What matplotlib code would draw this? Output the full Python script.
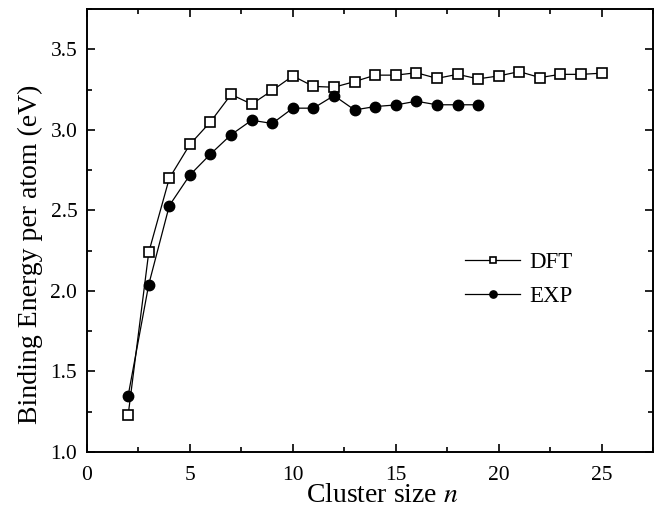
import matplotlib
matplotlib.use('Agg')
import matplotlib.pyplot as plt
from matplotlib.ticker import MultipleLocator

# cluster size and binding energy per atom (eV)
n_dft = [2, 3, 4, 5, 6, 7, 8, 9, 10, 11, 12, 13, 14, 15, 16, 17, 18, 19, 20, 21, 22, 23, 24, 25]
e_dft = [1.23, 2.24, 2.70, 2.91, 3.05, 3.22, 3.16, 3.245, 3.335, 3.27, 3.265, 3.30, 3.34, 3.34,
         3.355, 3.32, 3.345, 3.317, 3.335, 3.362, 3.325, 3.345, 3.345, 3.352]
n_exp = [2, 3, 4, 5, 6, 7, 8, 9, 10, 11, 12, 13, 14, 15, 16, 17, 18, 19]
e_exp = [1.35, 2.04, 2.53, 2.72, 2.85, 2.97, 3.06, 3.04, 3.135, 3.135, 3.213, 3.124, 3.145,
         3.155, 3.178, 3.156, 3.156, 3.156]

plt.rcParams['font.family'] = ['Liberation Serif', 'DejaVu Serif']
plt.rcParams['mathtext.fontset'] = 'stix'

fig = plt.figure(figsize=(6.61, 5.18), dpi=100)
ax = fig.add_axes([0.1316, 0.1274, 0.8564, 0.855])

ax.plot(n_dft, e_dft, color='black', lw=0.9, marker='s', ms=6.5, mfc='white',
        mec='black', mew=1.2, label='DFT')
ax.plot(n_exp, e_exp, color='black', lw=0.9, marker='o', ms=7.5, mfc='black',
        mec='black', label='EXP')

ax.set_xlim(0, 27.5)
ax.set_ylim(1.0, 3.75)
ax.xaxis.set_major_locator(MultipleLocator(5))
ax.xaxis.set_minor_locator(MultipleLocator(2.5))
ax.yaxis.set_major_locator(MultipleLocator(0.5))
ax.yaxis.set_minor_locator(MultipleLocator(0.25))
ax.tick_params(which='both', direction='in', top=True, right=True, width=1.2)
ax.tick_params(which='major', length=6, labelsize=15.5)
ax.tick_params(axis='x', which='major', pad=10)
ax.tick_params(axis='y', which='major', pad=7)
ax.tick_params(which='minor', length=3.5)
ax.set_yticks([1.0, 1.5, 2.0, 2.5, 3.0, 3.5])
ax.set_yticklabels(['1.0', '1.5', '2.0', '2.5', '3.0', '3.5'])
for s in ax.spines.values():
    s.set_linewidth(1.4)

ax.set_xlabel('Cluster size $n$', fontsize=20)
ax.set_ylabel('Binding Energy per atom (eV)', fontsize=20)
ax.xaxis.set_label_coords(0.521, -0.07)
ax.yaxis.set_label_coords(-0.078, 0.447)

ax.legend(loc='center left', bbox_to_anchor=(0.632, 0.39), frameon=False,
          fontsize=16.5, handlelength=2.4, handletextpad=0.4, labelspacing=0.55,
          markerscale=0.7)

fig.savefig('out.png', dpi=100)
